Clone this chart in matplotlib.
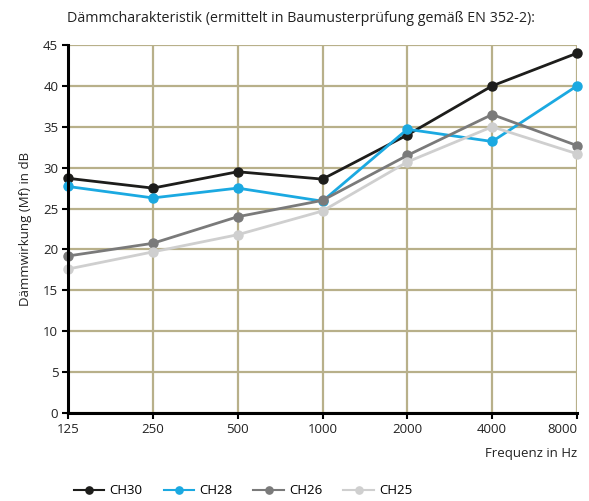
import matplotlib
matplotlib.use("Agg")
import matplotlib.pyplot as plt

freqs = ["125", "250", "500", "1000", "2000", "4000", "8000"]
ch30 = [28.7, 27.5, 29.5, 28.6, 34.0, 40.0, 44.0]
ch28 = [27.7, 26.3, 27.5, 25.9, 34.7, 33.2, 40.0]
ch26 = [19.2, 20.75, 24.0, 26.0, 31.5, 36.5, 32.7]
ch25 = [17.6, 19.7, 21.8, 24.7, 30.7, 35.0, 31.7]
series = [("CH30", ch30, "#1d1d1b"), ("CH28", ch28, "#1ba9e1"),
          ("CH26", ch26, "#7a7a7a"), ("CH25", ch25, "#cfcfcf")]
yticks = [0, 5, 10, 15, 20, 25, 30, 35, 40, 45]

plt.rcParams['font.family'] = ['Open Sans', 'DejaVu Sans']
fig = plt.figure(figsize=(5.89, 5.01), dpi=100)
ax = fig.add_axes([68/589, 1-413/501, (577-68)/589, (413-45)/501])

x = list(range(len(freqs)))
handles = []
for name, vals, col in series:
    h, = ax.plot(x, vals, color=col, lw=2.0, marker='o', ms=6.5, label=name, zorder=3, clip_on=False)
    handles.append(h)

ax.set_xlim(0, len(freqs)-1)
ax.set_ylim(0, 45)
ax.set_xticks(x)
ax.set_xticklabels(freqs)
ax.get_xticklabels()[-1].set_ha('right')
ax.set_yticks(yticks)
ax.grid(True, color="#b8b08a", lw=1.6, zorder=0)
ax.set_axisbelow(True)
for s in ['top', 'right']:
    ax.spines[s].set_visible(False)
for s in ['left', 'bottom']:
    ax.spines[s].set_linewidth(2.2)
    ax.spines[s].set_color('black')
    ax.spines[s].set_zorder(4)
ax.tick_params(axis='both', length=4, width=1.5, labelsize=9.5, color='black', labelcolor='#222222', pad=3)

ax.set_ylabel("Dämmwirkung (Mf) in dB", fontsize=9.5, color='#222222', labelpad=8)
fig.text(577/589, 1-453/501, "Frequenz in Hz", ha='right', va='center', fontsize=9.5, color='#222222')
fig.text(301/589, 1-19/501, "Dämmcharakteristik (ermittelt in Baumusterprüfung gemäß EN 352-2):",
         ha='center', va='center', fontsize=10.3, color='#222222')

leg = fig.legend(handles=handles, loc='center left', bbox_to_anchor=(62/589, 1-491/501), ncol=4,
           frameon=False, fontsize=9.5, handlelength=2.3, columnspacing=1.6, handletextpad=0.4,
           markerscale=0.8)
for lh in leg.get_lines():
    lh.set_linewidth(1.5)

fig.savefig("out.png", dpi=100)
